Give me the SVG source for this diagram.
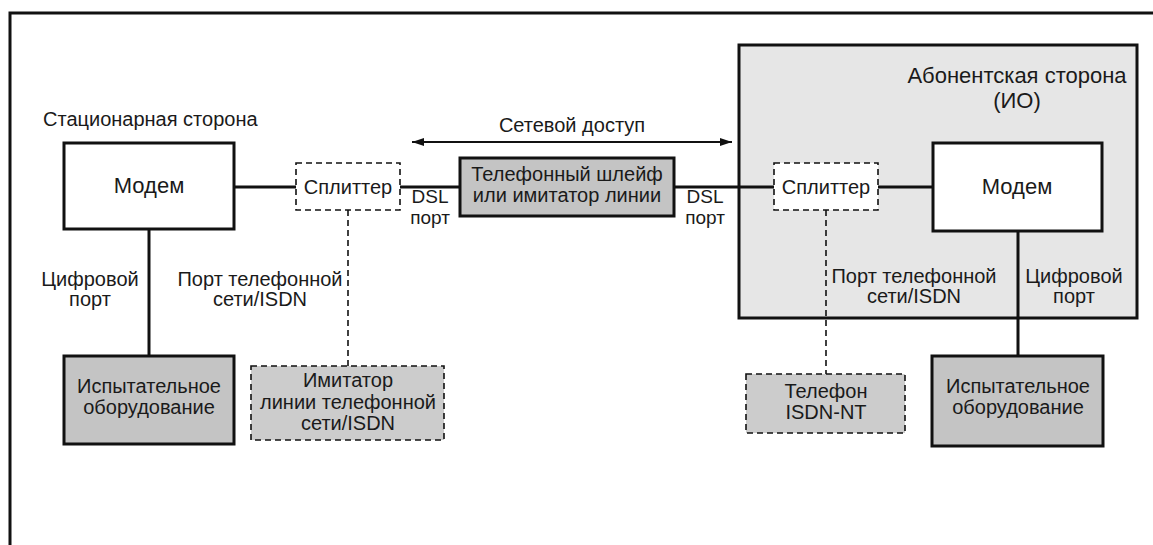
<svg xmlns="http://www.w3.org/2000/svg" width="1153" height="545" viewBox="0 0 1153 545">
<defs>
<style>
text{font-family:"Liberation Sans",Arial,sans-serif;font-size:20px;fill:#1a1a1a;text-anchor:middle}
.l{text-anchor:start}
.big{font-size:22px}
.sm{font-size:19px}
.solid{stroke:#111;stroke-width:3;fill:none}
.dash{stroke:#111;stroke-width:1.6;fill:none;stroke-dasharray:6 4}
.box{stroke:#111;stroke-width:3}
.dbox{stroke:#111;stroke-width:1.6;stroke-dasharray:6 4}
</style>
<marker id="ah" viewBox="0 0 12 10" refX="12" refY="5" markerWidth="12" markerHeight="10" orient="auto-start-reverse" markerUnits="userSpaceOnUse">
<path d="M0,1 L12,5 L0,9 z" fill="#111"/>
</marker>
</defs>
<rect width="1153" height="545" fill="#fff"/>
<path d="M10,545 V13 H1153" stroke="#111" stroke-width="3" fill="none"/>

<g id="subscriber-side">
<rect x="739" y="45" width="398" height="273" fill="#e6e6e6" class="box"/>
<text x="1017" y="83" class="big">Абонентская сторона</text>
<text x="1017" y="108" class="big">(ИО)</text>
</g>

<g id="connectors">
<line x1="234" y1="187" x2="296" y2="187" class="solid"/>
<line x1="400" y1="187" x2="460" y2="187" class="solid"/>
<line x1="674" y1="187" x2="774" y2="187" class="solid"/>
<line x1="878" y1="187" x2="933" y2="187" class="solid"/>
<line x1="149" y1="229" x2="149" y2="356" class="solid"/>
<line x1="1018" y1="231" x2="1018" y2="356" class="solid"/>
<line x1="348" y1="210" x2="348" y2="366" class="dash"/>
<line x1="826" y1="210" x2="826" y2="374" class="dash"/>
<line x1="412" y1="142" x2="732" y2="142" stroke="#111" stroke-width="2" marker-start="url(#ah)" marker-end="url(#ah)"/>
<text x="572" y="132">Сетевой доступ</text>
<text x="430" y="203" class="sm">DSL</text>
<text x="430" y="224" class="sm">порт</text>
<text x="705" y="203" class="sm">DSL</text>
<text x="705" y="224" class="sm">порт</text>
<text x="90" y="286">Цифровой</text>
<text x="90" y="306">порт</text>
<text x="260" y="286">Порт телефонной</text>
<text x="260" y="306">сети/ISDN</text>
<text x="914" y="283">Порт телефонной</text>
<text x="914" y="303">сети/ISDN</text>
<text x="1074" y="283">Цифровой</text>
<text x="1074" y="303">порт</text>
</g>

<g id="station-label">
<text x="43" y="126" class="l">Стационарная сторона</text>
</g>

<g id="modem-left">
<rect x="64" y="143" width="170" height="86" fill="#fff" class="box"/>
<text x="149" y="193" class="big">Модем</text>
</g>

<g id="splitter-left">
<rect x="296" y="163" width="104" height="47" fill="#fff" class="dbox"/>
<text x="348" y="194">Сплиттер</text>
</g>

<g id="loop">
<rect x="460" y="158" width="214" height="58" fill="#c4c4c4" class="box"/>
<text x="567" y="181">Телефонный шлейф</text>
<text x="567" y="202">или имитатор линии</text>
</g>

<g id="splitter-right">
<rect x="774" y="163" width="104" height="47" fill="#fff" class="dbox"/>
<text x="826" y="194">Сплиттер</text>
</g>

<g id="modem-right">
<rect x="933" y="143" width="169" height="88" fill="#fff" class="box"/>
<text x="1017" y="194" class="big">Модем</text>
</g>

<g id="test-left">
<rect x="64" y="356" width="170" height="88" fill="#c4c4c4" class="box"/>
<text x="149" y="393">Испытательное</text>
<text x="149" y="414">оборудование</text>
</g>

<g id="imitator">
<rect x="251" y="366" width="193" height="74" fill="#cccccc" class="dbox"/>
<text x="348" y="387">Имитатор</text>
<text x="348" y="409">линии телефонной</text>
<text x="348" y="430">сети/ISDN</text>
</g>

<g id="phone">
<rect x="746" y="374" width="159" height="59" fill="#cccccc" class="dbox"/>
<text x="826" y="398">Телефон</text>
<text x="826" y="419">ISDN-NT</text>
</g>

<g id="test-right">
<rect x="932" y="356" width="171" height="90" fill="#c4c4c4" class="box"/>
<text x="1018" y="393">Испытательное</text>
<text x="1018" y="414">оборудование</text>
</g>
</svg>
